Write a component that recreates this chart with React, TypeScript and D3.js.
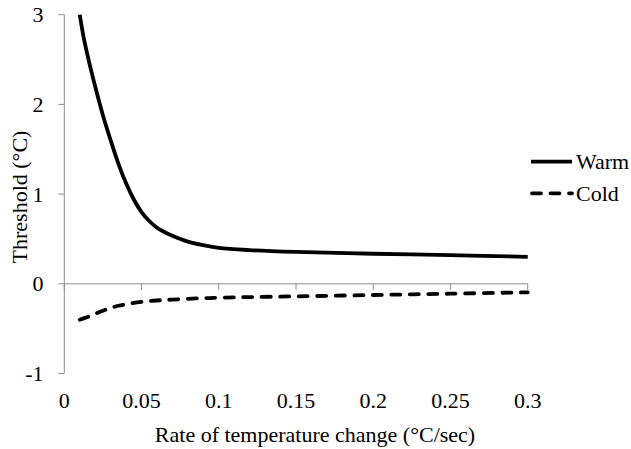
import React from "react";
import * as d3 from "d3";

const rates = [0.01, 0.0125, 0.015, 0.02, 0.025, 0.03, 0.035, 0.04, 0.045, 0.05, 0.055, 0.06, 0.065, 0.07, 0.08, 0.09, 0.1, 0.12, 0.15, 0.2, 0.25, 0.3];
const warm = [3.0, 2.75, 2.55, 2.2, 1.88, 1.6, 1.34, 1.12, 0.94, 0.8, 0.7, 0.625, 0.575, 0.535, 0.47, 0.43, 0.4, 0.375, 0.355, 0.335, 0.32, 0.3];
const cold = [-0.4, -0.385, -0.37, -0.335, -0.3, -0.27, -0.245, -0.228, -0.213, -0.202, -0.193, -0.186, -0.18, -0.176, -0.167, -0.161, -0.155, -0.148, -0.14, -0.125, -0.11, -0.095];
const xTicks = [0, 0.05, 0.1, 0.15, 0.2, 0.25, 0.3];
const yTicks = [-1, 0, 1, 2, 3];
const seriesNames = ["Warm", "Cold"];

const W = 631;
const H = 449;

export default function App() {
  const x = d3.scaleLinear().domain([0, 0.3]).range([64.3, 527.7]);
  const y = d3.scaleLinear().domain([-1, 3]).range([373.5, 14.7]);
  const font = "'Liberation Serif', 'Times New Roman', serif";
  const axisColor = "#8c8c8c";
  const fs = 22;

  const line = d3
    .line<number>()
    .x((_, i) => x(rates[i]))
    .y((d) => y(d))
    .curve(d3.curveCatmullRom.alpha(0.5));

  return (
    <svg
      width={W}
      height={H}
      style={{ position: "absolute", left: 0, top: 0, background: "#fff" }}
      fontFamily={font}
    >
      {/* y axis */}
      <line x1={x(0)} x2={x(0)} y1={y(3)} y2={y(-1)} stroke={axisColor} strokeWidth={1} />
      {yTicks.map((t) => (
        <g key={"y" + t}>
          <line x1={x(0) - 6} x2={x(0)} y1={y(t)} y2={y(t)} stroke={axisColor} strokeWidth={1} />
          <text x={43.5} y={y(t) + 7.5} textAnchor="end" fontSize={fs} fill="#000">
            {t}
          </text>
        </g>
      ))}
      {/* x axis at y=0 */}
      <line x1={x(0)} x2={x(0.3)} y1={y(0)} y2={y(0)} stroke={axisColor} strokeWidth={1} />
      {xTicks.map((t) => (
        <g key={"x" + t}>
          <line x1={x(t)} x2={x(t)} y1={y(0)} y2={y(0) + 6} stroke={axisColor} strokeWidth={1} />
          <text x={x(t)} y={407.5} textAnchor="middle" fontSize={fs} fill="#000">
            {t}
          </text>
        </g>
      ))}

      {/* series */}
      <path d={line(warm) || ""} fill="none" stroke="#000" strokeWidth={3.8} />
      <path
        d={line(cold) || ""}
        fill="none"
        stroke="#000"
        strokeWidth={3.8}
        strokeDasharray="9,9.5"
        strokeLinecap="round"
      />

      {/* legend */}
      <line x1={531} x2={572} y1={161.7} y2={161.7} stroke="#000" strokeWidth={3.8} />
      <text x={576} y={168.5} fontSize={fs} fill="#000">
        {seriesNames[0]}
      </text>
      <line
        x1={532}
        x2={572}
        y1={193.3}
        y2={193.3}
        stroke="#000"
        strokeWidth={3.8}
        strokeDasharray="9,9.5"
        strokeLinecap="round"
      />
      <text x={576} y={200.5} fontSize={fs} fill="#000">
        {seriesNames[1]}
      </text>

      {/* axis titles */}
      <text x={315} y={441.7} textAnchor="middle" fontSize={fs} fill="#000">
        Rate of temperature change (°C/sec)
      </text>
      <text
        transform={`translate(27,197) rotate(-90)`}
        textAnchor="middle"
        fontSize={fs}
        fill="#000"
      >
        Threshold (°C)
      </text>
    </svg>
  );
}
